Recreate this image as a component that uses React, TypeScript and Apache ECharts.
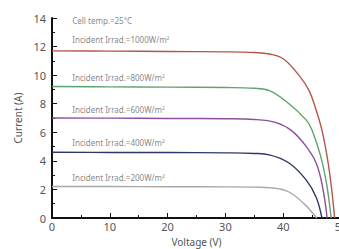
import React, { useEffect, useRef } from "react";
import * as echarts from "echarts";

const irradLabels = ["1000", "800", "600", "400", "200"];
const seriesColors = ["#b8554b", "#5fa46c", "#8d4f9c", "#2f3668", "#a8a8a8"];

const curve1000: number[][] = [[0, 11.7], [10, 11.68], [20, 11.66], [30, 11.63], [35, 11.58], [37.6, 11.48], [40, 11.15], [42.8, 9.95], [44.5, 8.9], [45.7, 7.55], [46.7, 6.15], [47.6, 4.3], [48.3, 2.3], [48.9, 0]];
const curve800: number[][] = [[0, 9.2], [10, 9.18], [20, 9.16], [30, 9.13], [35, 9.08], [37.6, 8.92], [41, 8.0], [44, 6.85], [45, 6.15], [46.5, 4.3], [47.5, 2.4], [48.3, 0]];
const curve600: number[][] = [[0, 7.0], [10, 6.99], [20, 6.97], [30, 6.95], [35, 6.9], [38.8, 6.68], [41.5, 6.1], [44, 5.0], [45.7, 3.85], [46.8, 2.2], [47.6, 0]];
const curve400: number[][] = [[0, 4.6], [10, 4.59], [20, 4.58], [30, 4.56], [35, 4.52], [37.6, 4.42], [41, 3.85], [44, 2.65], [45.7, 1.45], [46.7, 0]];
const curve200: number[][] = [[0, 2.2], [10, 2.2], [20, 2.19], [30, 2.18], [35, 2.16], [38, 2.11], [41, 1.82], [44, 0.85], [45.1, 0.33], [45.8, 0]];
const curves = [curve1000, curve800, curve600, curve400, curve200];
const labelY = [12.5, 9.85, 7.6, 5.3, 2.85];

export default function App() {
  const ref = useRef<HTMLDivElement>(null);
  useEffect(() => {
    document.body.style.margin = "0";
    if (!ref.current) return;
    const chart = echarts.init(ref.current, null, { renderer: "svg" });
    const font = "Noto Sans";
    chart.setOption({
      animation: false,
      textStyle: { fontFamily: font },
      grid: { left: 52, top: 18, width: 289, height: 200, containLabel: false, outerBoundsMode: "none" },
      xAxis: {
        type: "value",
        min: 0,
        max: 50,
        interval: 10,
        name: "Voltage (V)",
        nameLocation: "middle",
        nameGap: 19,
        nameTextStyle: { color: "#555", fontSize: 10, fontFamily: font },
        axisLine: { lineStyle: { color: "#111", width: 2 } },
        axisTick: { inside: true, length: 5, lineStyle: { color: "#111", width: 1 } },
        minorTick: { show: true, splitNumber: 2, length: 3, lineStyle: { color: "#111", width: 1 } },
        axisLabel: { color: "#555", fontSize: 11, margin: 3, fontFamily: font },
        splitLine: { show: false },
      },
      yAxis: {
        type: "value",
        min: 0,
        max: 14,
        interval: 2,
        name: "Current (A)",
        nameLocation: "middle",
        nameGap: 26,
        nameRotate: 90,
        nameTextStyle: { color: "#555", fontSize: 10, fontFamily: font },
        axisLine: { show: true, lineStyle: { color: "#111", width: 2 } },
        axisTick: { show: true, inside: true, length: 5, lineStyle: { color: "#111", width: 1 } },
        minorTick: { show: true, splitNumber: 2, length: 3, lineStyle: { color: "#111", width: 1 } },
        axisLabel: { color: "#555", fontSize: 11, margin: 6, fontFamily: font },
        splitLine: { show: false },
      },
      series: [
        ...curves.map((c, i) => ({
          type: "line",
          data: c,
          smooth: 0.4,
          showSymbol: false,
          lineStyle: { color: seriesColors[i], width: 1.4 },
          z: 2,
        })),
        {
          type: "scatter",
          symbolSize: 0,
          data: [[3.5, 13.85], ...labelY.map((y) => [3.5, y])],
          label: {
            show: true,
            position: "right",
            distance: 0,
            color: "#666",
            fontSize: 8,
            fontFamily: font,
            formatter: (p: any) =>
              p.dataIndex === 0
                ? "Cell temp.=25°C"
                : "Incident Irrad.=" + irradLabels[p.dataIndex - 1] + "W/m²",
          },
        },
      ],
    });
    return () => chart.dispose();
  }, []);
  return <div ref={ref} style={{ width: 339, height: 249 }} />;
}
